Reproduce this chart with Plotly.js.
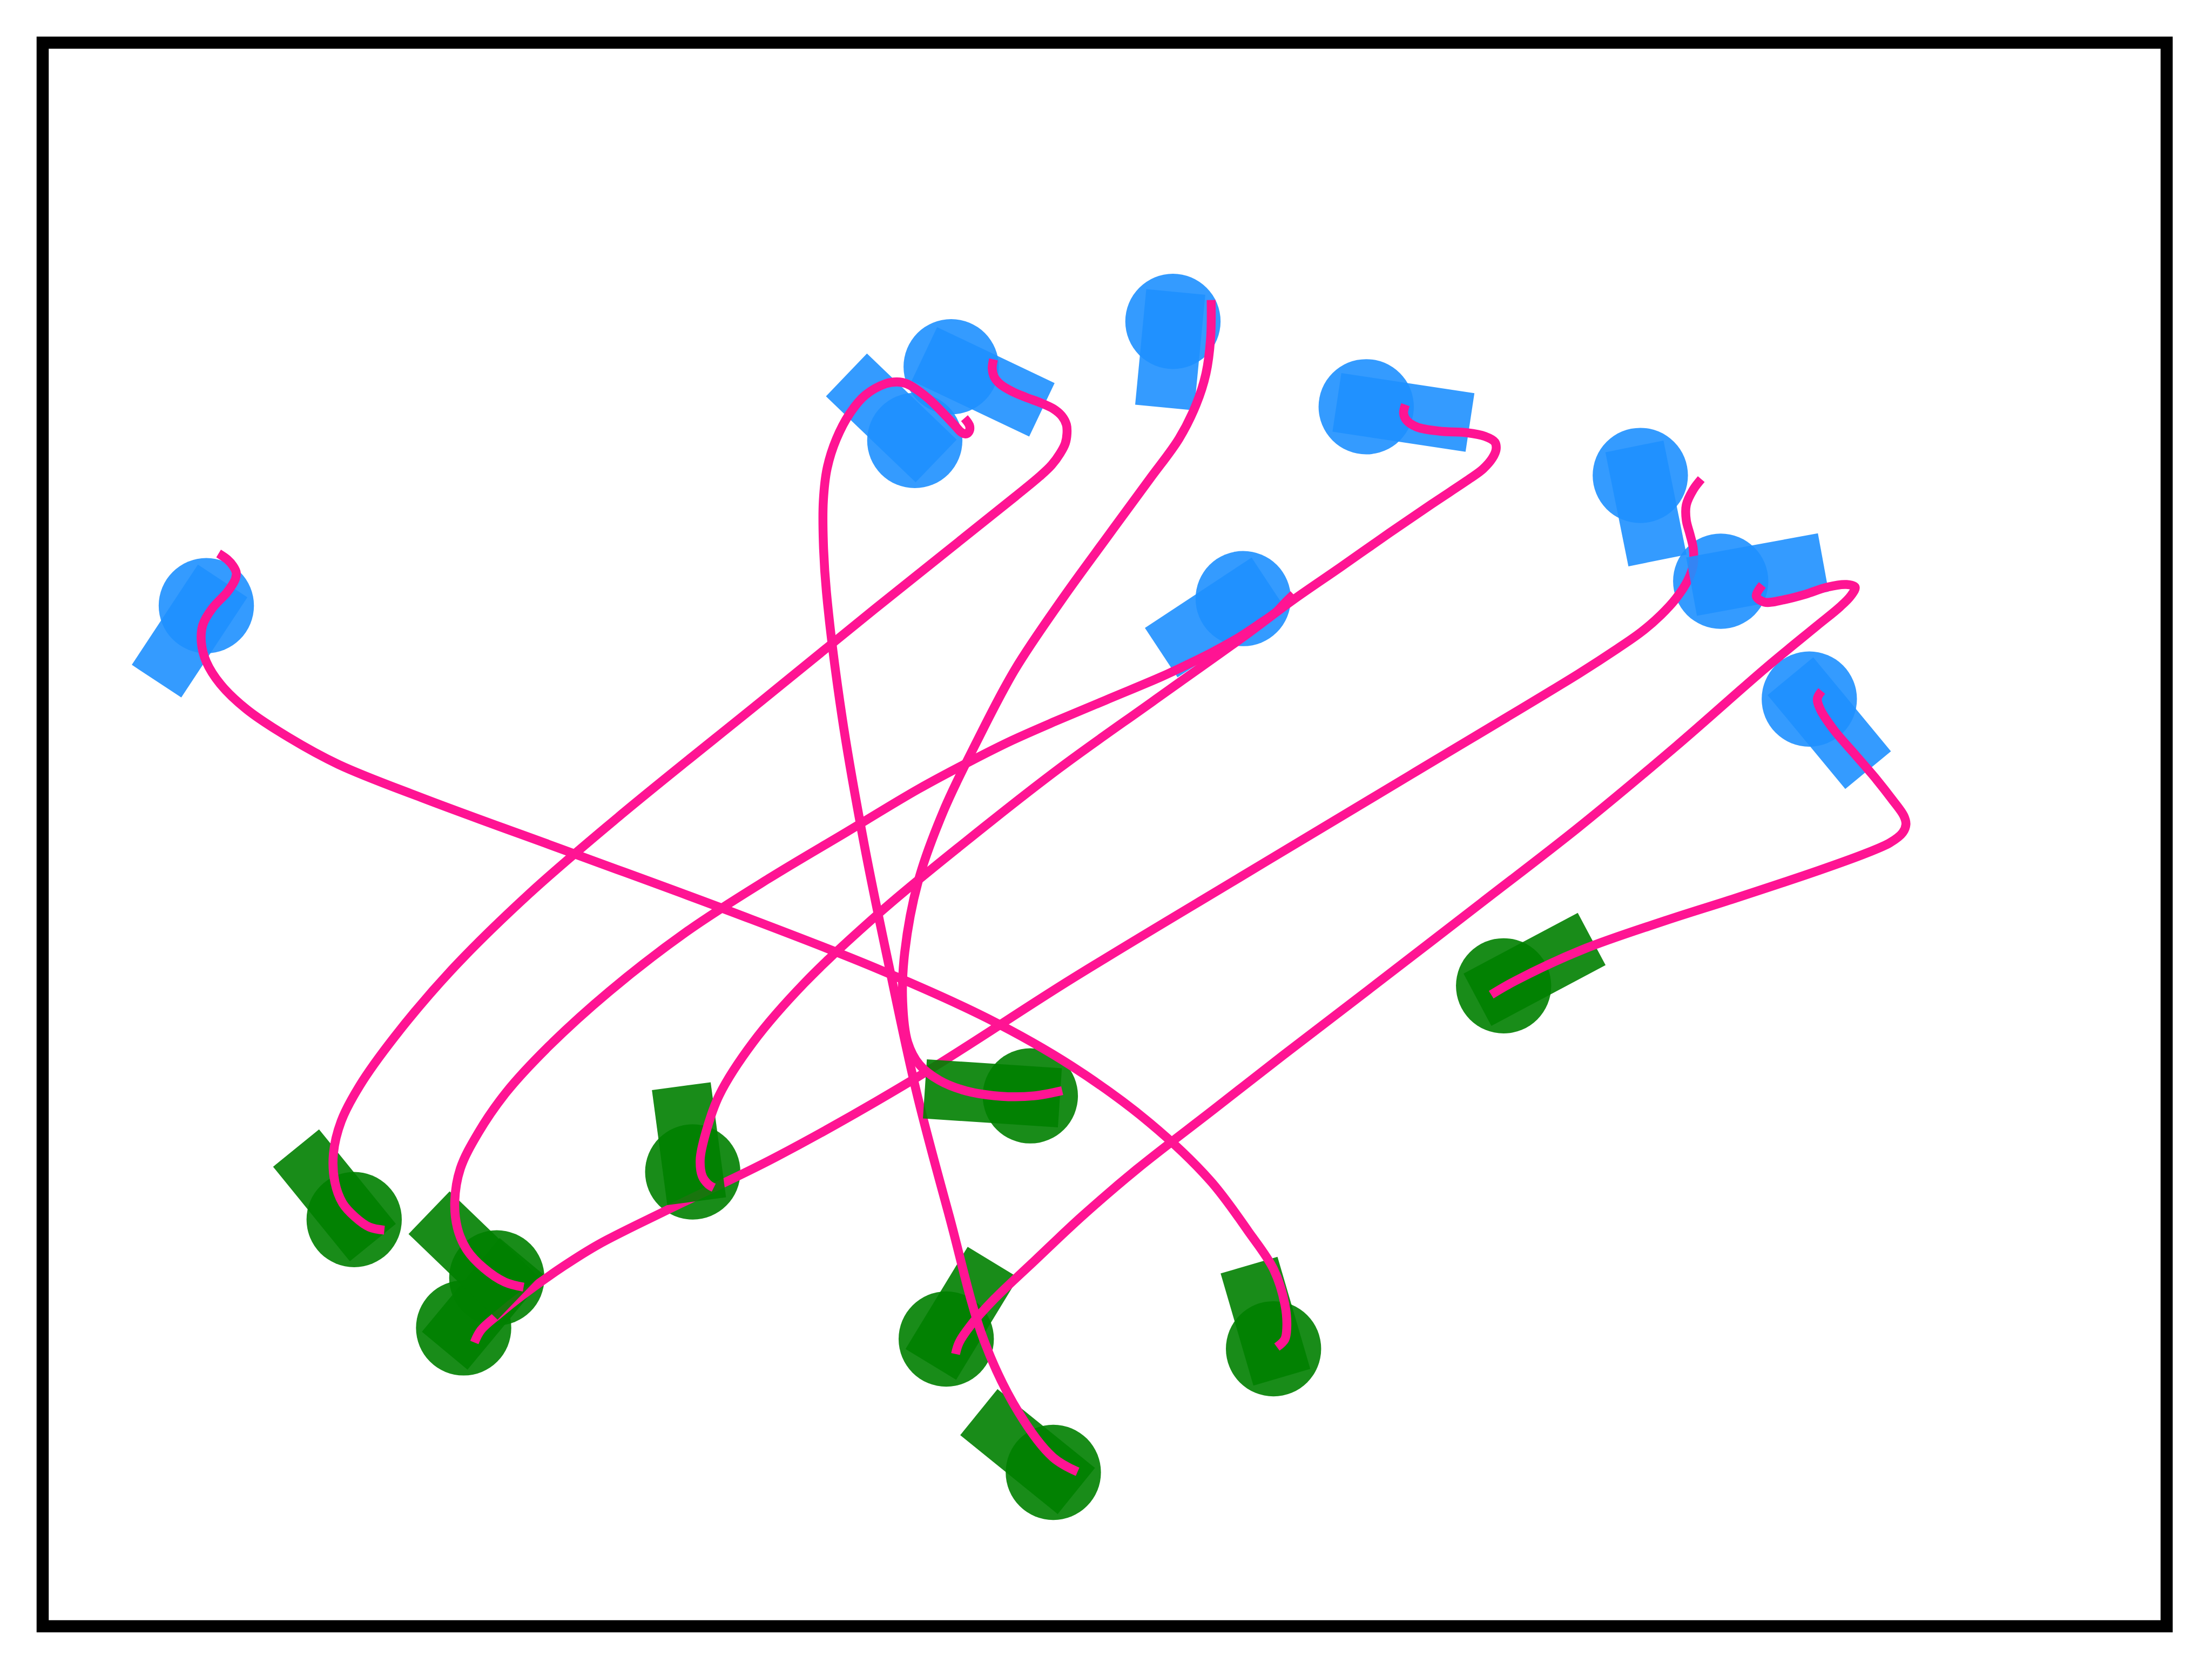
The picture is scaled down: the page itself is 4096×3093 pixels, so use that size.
<!DOCTYPE html>
<html>
<head>
<meta charset="utf-8">
<script src="https://cdn.plot.ly/plotly-3.0.1.min.js"></script>
<style>html,body{margin:0;padding:0;background:#fff;}#chart{width:4096px;height:3093px;}</style>
</head>
<body>
<div id="chart"></div>
<script>
// ---- data (plane coordinates, y grows downward) ----
const startX = [146.4, 674.4, 648.6, 831.6, 968.6, 881.4, 1162.9, 1219.9, 1282.7];
const startY = [429.5, 260.1, 312.4, 228.0, 288.5, 424.5, 337.2, 412.2, 495.7];
const startHeading = [123.4, 25.4, 223.8, 95.5, 8.6, 146.6, 78.6, -10.4, 50.4];
const startFront = [64.1, 71.2, 67.1, 61.3, 74.4, 69.6, 61.5, 73.9, 65.4];

const goalX = [902.9, 251.2, 746.8, 730.5, 491.2, 352.3, 328.8, 670.9, 1066.0];
const goalY = [956.3, 864.7, 1043.9, 777.0, 830.9, 906.0, 941.5, 949.4, 699.0];
const goalHeading = [-106.3, -129.1, -141.0, -176.2, -97.6, -136.1, -50.3, -58.7, -28.0];
const goalFront = [61.8, 65.3, 67.9, 74.9, 61.3, 66.6, 65.3, 63.8, 70.7];

const path1X = [155.1,161.2,165.4,167.6,167.1,165.0,160.8,150.7,143.9,142.9,146.4,156.6,175.0,205.0,240.0,300.0,410.0,520.0,620.0,700.0,760.0,815.0,858.0,885.0,903.0,911.0,912.3,910.9,905.3];
const path1Y = [392.5,396.7,401.4,406.0,410.2,414.5,420.4,431.3,443.2,455.8,469.3,485.4,503.0,523.0,542.0,566.0,606.4,647.0,686.0,722.0,756.0,796.0,837.0,873.0,900.0,925.0,941.4,949.6,955.1];

const path2X = [704.4,703.5,705.0,709.3,717.7,727.4,738.3,746.8,752.9,756.1,756.5,755.3,751.6,745.6,737.1,720.0,680.0,620.0,540.0,440.0,375.0,320.0,280.0,255.0,242.0,236.5,237.5,243.0,252.0,262.0,272.6];
const path2Y = [254.9,261.4,267.5,272.6,277.7,281.8,285.9,289.9,295.1,301.2,307.3,314.4,321.6,329.8,337.9,352.0,384.0,432.0,497.0,578.0,634.0,688.0,735.0,770.0,795.0,818.0,838.0,853.0,863.0,870.0,872.2];

const path3X = [683.8,687.5,686.9,684.4,681.2,677.8,671.7,657.2,642.7,636.0,628.1,613.6,602.7,593.0,586.5,583.8,583.8,586.0,597.0,613.0,631.0,650.0,673.0,697.5,722.4,746.5,764.0];
const path3Y = [296.6,302.2,306.3,307.8,306.3,302.7,296.1,281.8,272.1,270.9,272.1,280.2,293.0,311.4,332.0,355.0,385.0,420.0,508.0,600.0,688.0,775.0,862.0,950.0,1001.7,1033.2,1043.5];

const path4X = [858.7,858.3,855.0,848.0,836.0,815.1,786.0,753.0,719.5,693.0,669.0,651.0,641.5,640.0,643.6,652.0,666.0,685.0,710.0,733.0,753.1];
const path4Y = [212.8,240.0,265.0,287.0,311.0,339.8,379.5,425.0,475.0,525.0,575.0,625.0,675.0,710.0,739.0,755.0,766.0,773.5,777.3,777.0,773.3];

const path5X = [996.4,995.1,997.3,1004.4,1020.5,1040.1,1052.6,1059.8,1060.7,1058.0,1051.5,1042.0,1015.0,985.0,950.0,916.7,881.0,817.1,750.8,684.4,625.0,570.4,534.0,510.0,500.5,496.5,498.0,502.0,506.1];
const path5Y = [287.0,293.1,298.2,302.8,305.8,306.9,309.4,313.5,318.6,325.0,332.5,339.5,357.5,378.0,402.5,425.5,452.0,497.5,545.0,597.0,646.0,697.0,739.0,776.5,803.0,822.0,834.0,839.5,842.1];

const path6X = [917.1,911.0,904.9,893.0,876.2,859.3,842.4,823.4,783.9,748.2,717.6,689.5,651.2,600.2,545.0,487.0,432.0,389.0,359.0,339.0,326.5,322.5,324.5,331.0,343.0,358.0,371.3];
const path6Y = [421.6,427.5,433.9,442.3,453.3,462.6,471.0,479.9,496.5,511.5,525.0,539.0,559.5,590.0,623.0,660.5,703.0,742.0,774.5,803.5,828.5,852.0,871.0,886.0,899.0,909.0,912.6];

const path7X = [1206.1,1200.4,1195.5,1195.5,1198.1,1200.4,1200.4,1196.6,1188.2,1177.4,1163.7,1146.8,1119.3,1000.0,880.0,760.0,650.0,550.0,475.0,425.0,400.0,369.9,353.5,341.1,336.4];
const path7Y = [339.8,347.3,358.1,369.0,378.9,388.8,400.7,411.5,424.4,436.2,448.1,459.9,477.7,549.5,621.5,694.0,764.0,820.5,857.0,882.0,897.5,918.8,931.9,943.0,951.8];

const path8X = [1249.4,1245.1,1250.9,1264.7,1280.0,1295.3,1309.1,1315.2,1312.2,1304.5,1287.7,1252.0,1188.2,1119.3,1050.4,970.0,910.0,860.0,806.0,767.0,734.0,705.0,688.0,680.0,677.5];
const path8Y = [414.9,422.8,427.0,425.3,421.4,416.4,414.5,416.4,422.4,430.3,444.1,473.5,529.2,586.5,640.0,702.0,748.0,787.0,829.0,862.5,893.5,921.0,940.0,952.0,960.0];

const path9X = [1291.5,1288.4,1290.7,1299.9,1315.2,1330.5,1341.3,1349.7,1351.2,1348.9,1340.0,1323.0,1290.0,1230.0,1180.0,1121.3,1074.0,1057.2];
const path9Y = [490.0,495.5,503.4,517.3,535.1,552.9,566.7,578.5,584.5,590.4,597.5,605.0,617.0,637.0,653.0,673.6,695.6,705.3];

const pathsX = [path1X, path2X, path3X, path4X, path5X, path6X, path7X, path8X, path9X];
const pathsY = [path1Y, path2Y, path3Y, path4Y, path5Y, path6Y, path7Y, path8Y, path9Y];

// ---- layout / style ----
const W = 4096, H = 3093;
const K = W / 1568;
const X_RANGE = [30.39, 1536.0];
const Y_RANGE = [1153.0, 30.39];
const ML = Math.round(X_RANGE[0] * K), MT = Math.round(Y_RANGE[1] * K);
const MR = Math.round(W - X_RANGE[1] * K), MB = Math.round(H - Y_RANGE[0] * K);
const pxPerUnit = (W - ML - MR) / (X_RANGE[1] - X_RANGE[0]);

const ROBOT_R = 33.76, REAR = 21.0, HALF_W = 21.0;
const BLUE = 'rgba(30,144,255,0.9)', GREEN = 'rgba(0,128,0,0.9)', PINK = '#FF1493';
const PATH_W = 25 * 0.6615, FRAME_W = 34 * 0.6615;
const ORDER = [6, 1, 7, 2, 3, 5, 4, 0, 8];

function rectTrace(cx, cy, headingDeg, front, color) {
  const t = headingDeg * Math.PI / 180;
  const dx = Math.cos(t), dy = Math.sin(t);
  const nx = -dy, ny = dx;
  const rx = cx - REAR * dx, ry = cy - REAR * dy;
  const fx = cx + front * dx, fy = cy + front * dy;
  return {
    type: 'scatter', mode: 'lines', fill: 'toself', fillcolor: color,
    x: [rx + HALF_W * nx, fx + HALF_W * nx, fx - HALF_W * nx, rx - HALF_W * nx, rx + HALF_W * nx],
    y: [ry + HALF_W * ny, fy + HALF_W * ny, fy - HALF_W * ny, ry - HALF_W * ny, ry + HALF_W * ny],
    line: {width: 0, color: color}, hoverinfo: 'skip', showlegend: false
  };
}

const traces = [];
traces.push({type: 'scatter', mode: 'markers', x: startX, y: startY,
  marker: {size: 2 * ROBOT_R * pxPerUnit, color: BLUE, line: {width: 0}},
  hoverinfo: 'skip', showlegend: false, cliponaxis: false});
traces.push({type: 'scatter', mode: 'markers', x: goalX, y: goalY,
  marker: {size: 2 * ROBOT_R * pxPerUnit, color: GREEN, line: {width: 0}},
  hoverinfo: 'skip', showlegend: false, cliponaxis: false});

ORDER.forEach(i => {
  traces.push(rectTrace(startX[i], startY[i], startHeading[i], startFront[i], BLUE));
  traces.push(rectTrace(goalX[i], goalY[i], goalHeading[i], goalFront[i], GREEN));
  traces.push({type: 'scatter', mode: 'lines', x: pathsX[i], y: pathsY[i],
    line: {color: PINK, width: PATH_W, shape: 'spline', smoothing: 1},
    hoverinfo: 'skip', showlegend: false});
});

const layout = {
  width: W, height: H,
  margin: {l: ML, r: MR, t: MT, b: MB, pad: 0},
  paper_bgcolor: '#ffffff', plot_bgcolor: '#ffffff',
  showlegend: false,
  xaxis: {range: X_RANGE, showgrid: false, zeroline: false, showticklabels: false, ticks: '', showline: false, fixedrange: true},
  yaxis: {range: Y_RANGE, showgrid: false, zeroline: false, showticklabels: false, ticks: '', showline: false, fixedrange: true},
  shapes: [{type: 'rect', xref: 'paper', yref: 'paper', x0: 0, x1: 1, y0: 0, y1: 1,
    line: {color: '#000000', width: FRAME_W}, fillcolor: 'rgba(0,0,0,0)', layer: 'above'}]
};

Plotly.newPlot('chart', traces, layout, {staticPlot: true, displayModeBar: false});
</script>
</body>
</html>
